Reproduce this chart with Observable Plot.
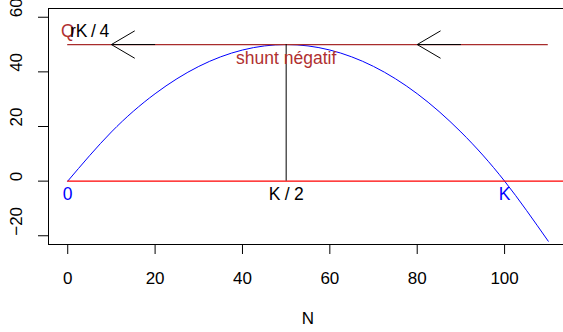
<!DOCTYPE html>
<html><head><meta charset="utf-8">
<script src="https://cdn.jsdelivr.net/npm/d3@7"></script>
<script src="https://cdn.jsdelivr.net/npm/@observablehq/plot@0.6"></script>
<style>
html,body{margin:0;padding:0;background:#fff;overflow:hidden}
#chart svg{display:block;max-width:none}
</style>
</head><body><div id="chart"></div>
<script>
// Data
const curveN = [0, 10, 20, 30, 40, 50, 60, 70, 80, 90, 100, 110];
const curveG = [0, 18, 32, 42, 48, 50, 48, 42, 32, 18, 0, -22];
const xTicks = [0, 20, 40, 60, 80, 100];
const yTicks = [-20, 0, 20, 40, 60];
const xlim = [0, 110];
const ylim = [-20, 60];
const harvestLevel = 50;      // rK/4
const halfK = 50;             // K/2
const arrowFrom = [20, 90];
const arrowTo = [10, 80];
const topLabels = ["Q", "rK/4", "shunt négatif"];
const topLabelX = [0, 5, 50];
const topLabelY = [55, 55, 45];
const axisLabels = ["0", "K/2", "K"];
const axisLabelX = [0, 50, 100];
const axisLabelY = [-5, -5, -5];

const ext = (l) => { const d = (l[1] - l[0]) * 0.04; return [l[0] - d, l[1] + d]; };
const xd = ext(xlim), yd = ext(ylim);
const W = 563, H = 332, mL = 48, mT = 8, mB = 88;
// right edge of the R plot box lies just beyond the window
const plotW = W - mL;
const fullW = (xd[1] - xd[0]);
const pxPerUnit = (plotW + 4) / fullW;
const xDomain = [xd[0], xd[0] + plotW / pxPerUnit];

const curve = curveN.map((n, i) => ({n, g: curveG[i]}));
const arrows = arrowFrom.map((a, i) => ({x1: a, x2: arrowTo[i], y: harvestLevel}));
const tl = topLabels.map((t, i) => ({t, x: topLabelX[i], y: topLabelY[i]}));
const al = axisLabels.map((t, i) => ({t, x: axisLabelX[i], y: axisLabelY[i]}));

const vHead = {
  draw(ctx) {
    ctx.moveTo(13.5, 23);
    ctx.lineTo(0, 0);
    ctx.lineTo(-13.5, 23);
  }
};

const font = "Liberation Sans, Arial, Helvetica, sans-serif";
const plot = Plot.plot({
  width: W, height: H,
  marginLeft: mL, marginRight: 0, marginTop: mT, marginBottom: mB,
  style: {fontFamily: font, fontSize: "17px", background: "#fff", color: "black"},
  x: {domain: xDomain},
  y: {domain: yd},
  marks: [
    Plot.frame({stroke: "black"}),
    Plot.axisX({ticks: xTicks, tickSize: 10, tickPadding: 17, label: null, fontSize: 17}),
    Plot.axisY({ticks: yTicks, tickSize: 10, fill: "none", label: null}),
    Plot.text(yTicks, {y: d => d, text: d => d === -20 ? "\u221220" : String(d), frameAnchor: "left", dx: -32, rotate: -90, fontSize: 17, fill: "black"}),
    Plot.text(["N"], {x: (xlim[0] + xlim[1]) / 2, frameAnchor: "bottom", dy: 79, fontSize: 17, fill: "black"}),
    Plot.line(curve, {x: "n", y: "g", stroke: "blue", strokeWidth: 1, curve: "natural"}),
    Plot.ruleY([harvestLevel], {x1: xlim[0], x2: xlim[1], stroke: "#a82c2c", strokeWidth: 1.3}),
    Plot.ruleY([0], {x1: xlim[0], x2: xDomain[1] + 10, stroke: "red", strokeWidth: 1.3, clip: true}),
    Plot.ruleX([halfK], {y1: 0, y2: harvestLevel, stroke: "black", strokeWidth: 1}),
    Plot.link(arrows, {x1: "x1", x2: "x2", y1: "y", y2: "y", stroke: "black", strokeWidth: 1}),
    Plot.vector(arrows, {x: "x2", y: "y", length: 30, rotate: -90, anchor: "start", shape: vHead, stroke: "black", strokeWidth: 1}),
    Plot.text(tl, {x: "x", y: "y", text: d => d.t === "rK/4" ? "rK\u2009/\u20094" : d.t, fill: d => d.t === "rK/4" ? "black" : "#b03030", fontSize: 17.5}),
    Plot.text(al, {x: "x", y: "y", text: d => d.t === "K/2" ? "K\u2005/\u20052" : d.t, fill: d => d.t === "K/2" ? "black" : "blue", fontSize: 17.5})
  ]
});
document.getElementById("chart").append(plot);
</script>
</body></html>
